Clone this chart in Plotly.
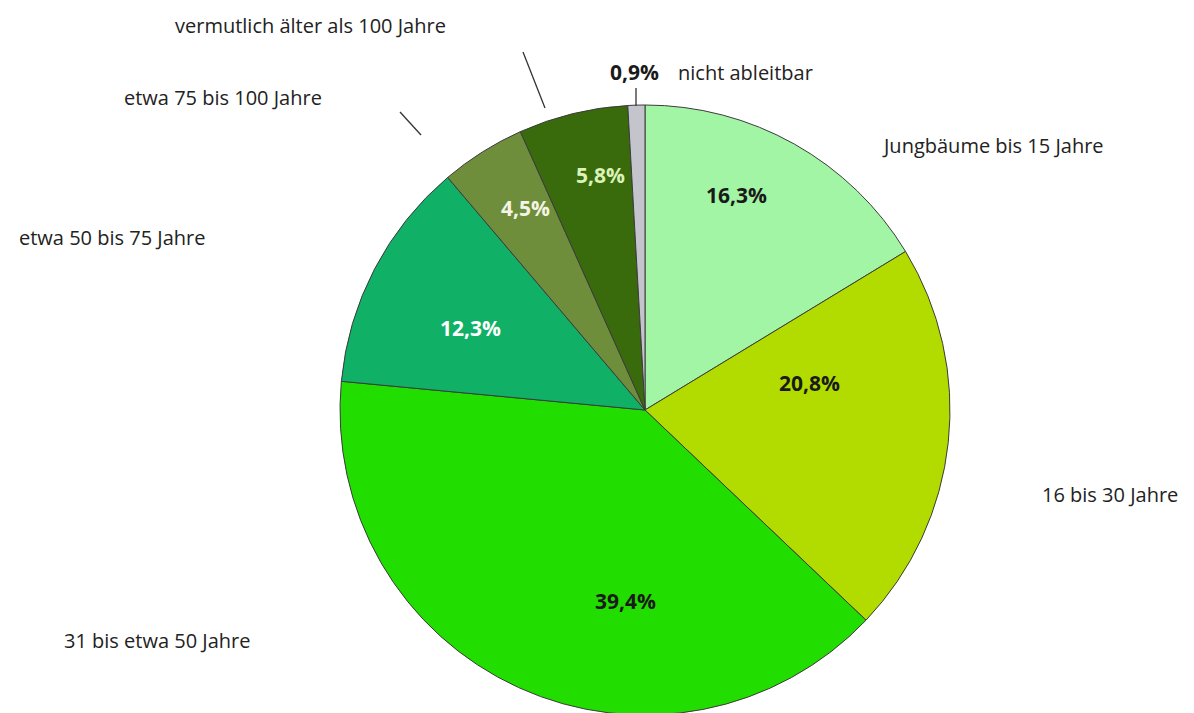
import plotly.graph_objects as go

categories = ["Jungbäume bis 15 Jahre", "16 bis 30 Jahre", "31 bis etwa 50 Jahre",
              "etwa 50 bis 75 Jahre", "etwa 75 bis 100 Jahre",
              "vermutlich älter als 100 Jahre", "nicht ableitbar"]
shares = [16.3, 20.8, 39.4, 12.3, 4.5, 5.8, 0.9]
colors = ["#a2f5a4", "#b2dc00", "#22dd00", "#10b066", "#6e8e3c", "#396b0c", "#c4c4cc"]
text_colors = ["#1a1a1a", "#1a1a1a", "#1a1a1a", "#ffffff", "#f4f4e4", "#dcf2b8", "#1a1a1a"]

pct_text = [f"{v:.1f}%".replace(".", ",") for v in shares]

W, H = 1194, 713
OFF = 8  # page body margin
cx, cy, R = 645 - OFF, 410 - OFF, 305


def px(x, y):
    return dict(x=(x - OFF) / W, y=1 - (y - OFF) / H, xref="paper", yref="paper")


fig = go.Figure(go.Pie(
    labels=categories,
    values=shares,
    textinfo="none",
    sort=False,
    direction="clockwise",
    rotation=0,
    marker=dict(colors=colors, line=dict(color="#3c3c3c", width=1)),
    showlegend=False,
    hoverinfo="label+percent",
    domain=dict(x=[(cx - R) / W, (cx + R) / W], y=[1 - (cy + R) / H, 1 - (cy - R) / H]),
))

FAM = "Open Sans"
font = dict(family=FAM, size=20, color="#222222")
label_pos = [(993, 145), (1110, 495), (157, 640), (112, 238), (223, 97), (310, 25), (745, 72)]
pct_pos = [(736, 195), (809, 383), (625, 601), (470, 328), (525, 208), (600, 175), (634, 72)]

ann = []
for name, (x, y) in zip(categories, label_pos):
    ann.append(dict(**px(x, y), text=name, showarrow=False, font=font,
                    xanchor="center", yanchor="middle"))
for t, (x, y), c in zip(pct_text, pct_pos, text_colors):
    ann.append(dict(**px(x, y), text="<b>" + t + "</b>", showarrow=False,
                    font=dict(family=FAM, size=21, color=c),
                    xanchor="center", yanchor="middle"))

leaders = [((400, 112), (421, 135)), ((523, 52), (545, 108)), ((636, 88), (636, 106))]
shapes = []
for a, b in leaders:
    p0, p1 = px(*a), px(*b)
    shapes.append(dict(type="line", xref="paper", yref="paper", x0=p0["x"], y0=p0["y"],
                       x1=p1["x"], y1=p1["y"], line=dict(color="#333333", width=1.3)))

fig.update_layout(width=W, height=H, margin=dict(l=0, r=0, t=0, b=0),
                  paper_bgcolor="white", plot_bgcolor="white",
                  annotations=ann, shapes=shapes)
fig.write_html("out.html")
